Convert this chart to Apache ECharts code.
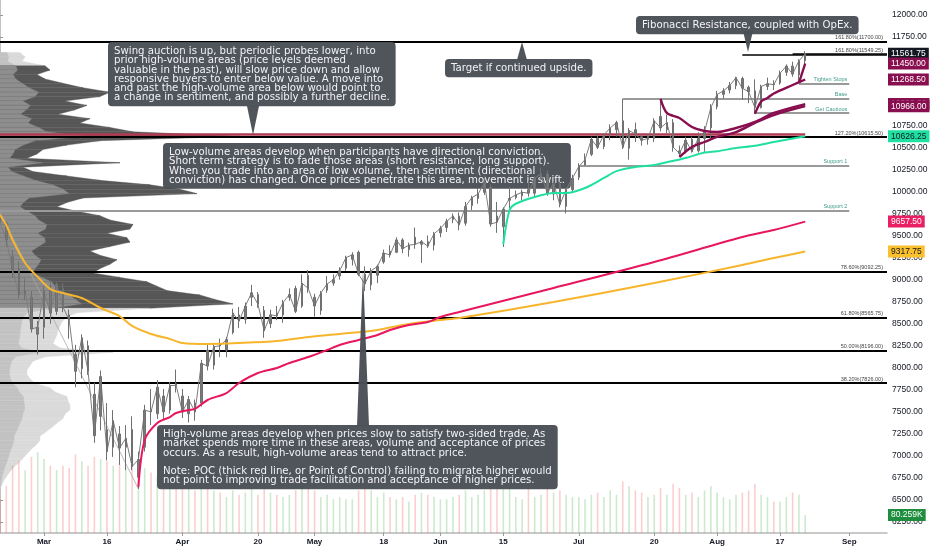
<!DOCTYPE html>
<html>
<head>
<meta charset="utf-8">
<script src="https://cdn.jsdelivr.net/npm/echarts@6/dist/echarts.min.js"></script>
<style>html,body{margin:0;padding:0;background:#fff}#main{width:932px;height:550px}</style>
</head>
<body>
<div id="main"></div>
<script>
/* NQ 2020 swing chart with volume profile and notes */
var tradingDays = [
  ['02', [20,21,24,25,26,27,28]],
  ['03', [2,3,4,5,6,9,10,11,12,13,16,17,18,19,20,23,24,25,26,27,30,31]],
  ['04', [1,2,3,6,7,8,9,13,14,15,16,17,20,21,22,23,24,27,28,29,30]],
  ['05', [1,4,5,6,7,8,11,12,13,14,15,18,19,20,21,22,26,27,28,29]],
  ['06', [1,2,3,4,5,8,9,10,11,12,15,16,17,18,19,22,23,24,25,26,29,30]],
  ['07', [1,2,6,7,8,9,10,13,14,15,16,17,20,21,22,23,24,27,28,29,30,31]],
  ['08', [3,4,5,6,7,10,11,12,13,14,17,18,19,20,21,24,25,26,27,28,31]],
  ['09', [1,2,3,4,8,9,10]]
];
var xLabels = {
  '2020-03-02':'Mar','2020-03-16':'16','2020-04-01':'Apr','2020-04-20':'20',
  '2020-05-01':'May','2020-05-18':'18','2020-06-01':'Jun','2020-06-15':'15',
  '2020-07-01':'Jul','2020-07-20':'20','2020-08-03':'Aug','2020-08-17':'17','2020-09-01':'Sep'
};
var yTicks = [6250,6500,6750,7000,7250,7500,7750,8000,8250,8500,8750,9000,9250,9500,9750,
  10000,10250,10500,10750,11000,11250,11500,11750,12000];

// daily bars: [open, close, low, high]
var priceBars = [
  [9720,9650,9560,9764],[9640,9450,9380,9660],[9260,9110,9020,9330],[9120,8830,8790,9210],
  [8840,8870,8770,9010],[8800,8440,8400,8870],[8380,8460,8150,8530],
  [8460,8870,8330,8920],[8880,8620,8500,8990],[8640,8950,8600,8970],[8900,8690,8630,8960],[8600,8540,8330,8660],
  [8150,7960,7780,8260],[7990,8340,7880,8380],[8250,7960,7920,8310],[7700,7230,7150,7830],[7450,7900,7290,7970],
  [7300,7050,6950,7600],[7100,7400,6990,7520],[7250,7090,6900,7340],[7100,7200,6840,7350],[7300,6880,6840,7450],
  [6760,6960,6628,7050],[7100,7520,7050,7580],[7520,7500,7350,7760],[7480,7780,7420,7860],[7680,7500,7420,7760],
  [7520,7800,7480,7840],[7820,7800,7720,7980],
  [7680,7500,7430,7760],[7480,7640,7380,7680],[7600,7500,7400,7640],
  [7600,8050,7560,8090],[8200,8020,7970,8280],[8030,8240,7980,8270],[8270,8250,8120,8330],
  [8200,8320,8120,8350],[8400,8620,8380,8670],[8600,8530,8450,8690],[8550,8700,8500,8740],[8800,8850,8700,8940],
  [8830,8720,8680,8860],[8650,8420,8340,8700],[8500,8600,8450,8660],[8620,8590,8540,8700],[8600,8740,8510,8770],
  [8800,8830,8760,8900],[8900,8640,8620,8930],[8700,8960,8680,9060],[9050,8900,8850,9110],
  [8800,8700,8580,8840],
  [8650,8850,8600,8870],[8880,8950,8850,9040],[8960,9000,8930,9060],[9040,9100,9000,9140],[9130,9250,9100,9270],
  [9230,9280,9160,9310],[9310,9060,9040,9330],[9060,8950,8870,9150],[8940,9100,8880,9130],[9050,9150,8960,9170],
  [9200,9300,9180,9340],[9320,9280,9250,9390],[9310,9450,9300,9480],[9450,9350,9300,9470],[9340,9390,9260,9420],
  [9480,9400,9350,9590],[9400,9430,9190,9450],[9430,9380,9360,9500],[9390,9520,9330,9540],
  [9530,9580,9480,9610],[9590,9660,9540,9690],[9680,9720,9640,9750],[9720,9620,9560,9760],[9640,9830,9610,9880],
  [9840,9930,9790,9950],[9920,9970,9860,10030],[9990,10100,9960,10180],[10050,9630,9600,10080],[9720,9650,9530,9880],
  [9600,9800,9370,9820],[9900,9920,9800,10050],[9930,9960,9910,10010],[9950,9990,9900,10020],[10020,9980,9940,10120],
  [9980,10150,9940,10170],[10160,10200,10140,10270],[10200,9980,9950,10240],[9970,10090,9900,10110],[10080,9850,9820,10110],
  [9830,10020,9750,10040],[10020,10150,9980,10190],
  [10160,10280,10130,10320],[10300,10360,10290,10430],
  [10420,10590,10400,10620],[10600,10500,10480,10660],[10510,10640,10480,10660],[10650,10720,10580,10760],[10700,10780,10620,10800],
  [10800,10500,10480,11050],[10490,10690,10360,10720],[10700,10650,10560,10780],[10620,10580,10520,10640],[10590,10600,10530,10650],
  [10600,10800,10560,10830],[10850,10720,10680,11050],[10700,10780,10660,10870],[10780,10500,10450,10820],[10460,10430,10390,10520],
  [10450,10580,10430,10620],[10590,10450,10440,10620],[10460,10600,10440,10670],[10600,10680,10450,10740],[10720,10950,10600,10990],
  [10960,11100,10930,11140],[11100,11140,11050,11170],[11150,11200,11110,11240],[11200,11290,11160,11300],[11280,11170,11040,11300],
  [11180,11130,11000,11200],[11140,10950,10880,11270],[10950,11190,10940,11210],[11190,11220,11150,11290],[11220,11210,11150,11260],
  [11230,11340,11210,11370],[11350,11420,11310,11440],[11420,11330,11300,11470],[11320,11480,11230,11500],[11480,11561.75,11440,11590]
];
// peak intraday volume per day, thousands
var volumes = [
  150,210,300,320,280,340,360,
  330,300,280,300,290, 350,320,300,340,330, 320,300,310,290,300, 300,290,270,250,240, 220,230,
  230,200,190, 220,200,190,180, 160,190,170,180,200, 170,210,180,170,160, 170,190,210,200,
  190, 160,170,150,160,150, 150,190,200,190,160, 180,160,150,160,140, 170,180,170,160,
  150,150,160,170,190, 160,170,190,240,230, 220,200,160,150,210, 160,170,200,180,190, 170,160,
  160,150, 170,180,160,190,170, 230,210,190,180,160, 170,200,170,220,200, 170,180,160,190,210,
  180,160,150,170,180, 190,220,170,160,140, 140,160,180,170,80.259
];

// [bar index, value]
var redMA = [[22,6650],[23,7181],[25,7374],[27,7442],[28,7488],[30,7522],[31,7533],[33,7635],[36,7714],[38,7828],
  [41,7941],[44,7998],[46,8054],[49,8122],[52,8202],[54,8259],[57,8315],[60,8372],[62,8429],[65,8485],[68,8519],
  [70,8576],[73,8633],[88,8905],[104,9200],[118,9483],[123,9562],[128,9657.5]];
var orangeMA = [[0,9732],[1,9619],[2,9449],[4,9188],[6,9029],[8,8893],[10,8848],[13,8791],[16,8678],[19,8587],
  [21,8474],[24,8383],[27,8327],[29,8281],[33,8270],[38,8281],[44,8304],[49,8349],[54,8383],[60,8429],[65,8497],
  [70,8542],[73,8565],[88,8746],[104,8961],[118,9166],[123,9245],[128,9317.75]];
var greenVWAP = [[80,9400],[81,9789],[82,9860],[85,9937],[88,9982],[90,9982],[93,10039],[96,10152],[98,10230],
  [101,10277],[104,10299],[106,10330],[109,10379],[112,10440],[114,10455],[117,10492],[120,10518],[123,10560],[128,10626.25]];
var vwapJul21 = [[105,11048],[106,10890],[108,10832],[110,10730],[112,10685],[114,10673],[117,10719],[120,10787],[123,10889],[128,10990]];
var vwapJul24 = [[108,10390],[110,10503],[112,10560],[114,10617],[117,10673],[120,10776],[123,10866],[128,10966]];
var vwapAug11 = [[120,10880],[121,11020],[122,11060],[123,11110],[126,11206],[128,11268.5]];
var vwapAug20 = [[127,11230],[128,11450]];

var fibLevels = [7826, 8196, 8565.75, 9092.25, 10615.5, 11700];
var fibRatios = ['38.20%', '50.00%', '61.80%', '78.60%', '127.20%', '161.80%'];
var fibShort = {ratio: '161.80%', value: 11549.25, from: 118};
var fibAnchor = [[0, 9764], [22, 6628]];
var lastPrice = 11561.75;
var pocLevel = 10645;

var stopLevels = [
  {name: 'Tighten Stops', value: 11218, from: 127},
  {name: 'Base', value: 11048, from: 99},
  {name: 'Get Cautious', value: 10889, from: 120},
  {name: 'Support 1', value: 10290, from: 92},
  {name: 'Support 2', value: 9778, from: 0}
];

// volume profile rows: [row low price, volume]
var profileStep = 50;
var profileRows = [
  [11550,200],[11500,250],[11450,220],[11400,450],[11350,500],[11300,370],[11250,450],[11200,630],[11150,830],
  [11100,1100],[11050,1000],[11000,650],[10950,870],[10900,750],[10850,580],[10800,900],[10750,800],[10700,1100],
  [10650,1330],[10600,2400],[10550,1000],[10500,670],[10450,430],[10400,370],[10350,270],[10300,1200],[10250,230],
  [10200,330],[10150,670],[10100,1000],[10050,1500],[10000,1800],[9950,1970],[9900,830],[9850,670],[9800,570],
  [9750,770],[9700,1000],[9650,1100],[9600,1330],[9550,1300],[9500,1070],[9450,1270],[9400,1300],[9350,1100],
  [9300,900],[9250,1000],[9200,1170],[9150,1100],[9100,1000],[9050,930],[9000,1200],[8950,1470],[8900,1570],
  [8850,1670],[8800,2000],[8750,2150],[8700,2330],[8650,1500],[8600,770],[8550,670],[8500,620],[8450,600],
  [8400,580],[8350,570],[8300,550],[8250,530],[8200,600],[8150,1130],[8100,450],[8050,330],[8000,300],[7950,270],
  [7900,270],[7850,300],[7800,350],[7750,500],[7700,550],[7650,670],[7600,680],[7550,700],[7500,700],[7450,650],
  [7400,630],[7350,570],[7300,520],[7250,460],[7200,400],[7150,400],[7100,360],[7050,310],[7000,270],[6950,230],
  [6900,190],[6850,140],[6800,100],[6750,70],[6700,40],[6650,20]
];

var notes = {
  swing: 'Swing auction is up, but periodic probes lower, into\nprior high-volume areas (price levels deemed\nvaluable in the past), will slow price down and allow\nresponsive buyers to enter below value. A move into\nand past the high-volume area below would point to\na change in sentiment, and possibly a further decline.',
  lowVol: 'Low-volume areas develop when participants have directional conviction.\nShort term strategy is to fade those areas (short resistance, long support).\nWhen you trade into an area of low volume, then sentiment (directional\nconviction) has changed. Once prices penetrate this area, movement is swift.',
  target: 'Target if continued upside.',
  fib: 'Fibonacci Resistance, coupled with OpEx.',
  highVol: 'High-volume areas develop when prices slow to satisfy two-sided trade. As\nmarket spends more time in these areas, volume and acceptance of prices\noccurs. As a result, high-volume areas tend to attract price.\n\nNote: POC (thick red line, or Point of Control) failing to migrate higher would\nnot point to improving trade facilitation and acceptance of higher prices.'
};

var dates = [];
tradingDays.forEach(function (m) {
  m[1].forEach(function (d) { dates.push('2020-' + m[0] + '-' + (d < 10 ? '0' + d : d)); });
});
var lastIdx = priceBars.length - 1;
var endIdx = dates.length - 1;
var closes = priceBars.map(function (b, i) { return [i, b[1]]; });

var dom = document.getElementById('main');
var myChart = echarts.init(dom);

var noteBg = 'rgba(74,78,86,0.97)';
var noteFont = '10.2px "DejaVu Sans"';
function note(x, y, text, z) {
  return {type: 'text', x: x, y: y, z: z || 100, silent: true,
    style: {text: text, fill: '#f2f3f5', font: noteFont, lineHeight: 9.2,
      backgroundColor: noteBg, padding: [5, 6, 4, 6], borderRadius: 4}};
}
function pointer(pts) {
  return {type: 'polygon', z: 100, silent: true, shape: {points: pts}, style: {fill: noteBg}};
}

var levelLines = [];
fibLevels.forEach(function (v, i) {
  levelLines.push({yAxis: v, lineStyle: {color: '#000', width: 2, type: 'solid'},
    label: {show: true, position: 'insideEndTop', distance: [4, 1], formatter: fibRatios[i] + '(' + v.toFixed(2) + ')',
      fontSize: 5.5, color: '#444', fontFamily: 'Liberation Sans'}});
});
levelLines.push([
  {coord: [fibShort.from, fibShort.value], lineStyle: {color: '#000', width: 1.5, type: 'solid'},
   label: {show: true, position: 'insideEndTop', distance: [4, 1], formatter: fibShort.ratio + '(' + fibShort.value.toFixed(2) + ')',
     fontSize: 5.5, color: '#444', fontFamily: 'Liberation Sans'}},
  {coord: [endIdx, fibShort.value]}
]);
levelLines.push([
  {coord: [lastIdx - 2, lastPrice], lineStyle: {color: '#000', width: 1.5, type: 'solid'}, label: {show: false}},
  {coord: [endIdx, lastPrice]}
]);
stopLevels.forEach(function (s) {
  levelLines.push([
    {coord: [s.from, s.value], lineStyle: {color: '#9a9a9a', width: 1.8, type: 'solid'},
     label: {show: true, position: 'insideEndTop', distance: [2, 1], formatter: s.name, fontSize: 5.5,
       color: '#3f9b88', fontFamily: 'Liberation Sans'}},
    {coord: [135, s.value]}
  ]);
});

function lastOf(a) { return a[a.length - 1][1]; }
var priceTags = [
  {v: lastPrice, bg: '#131722', fg: '#fff'},
  {v: lastOf(vwapAug20), bg: '#880e4f', fg: '#fff'},
  {v: lastOf(vwapAug11), bg: '#880e4f', fg: '#fff'},
  {v: lastOf(vwapJul21), bg: '#880e4f', fg: '#fff'},
  {v: lastOf(vwapJul24), bg: '#880e4f', fg: '#fff'},
  {v: lastOf(greenVWAP), bg: '#1fe0a0', fg: '#131722'},
  {v: lastOf(redMA), bg: '#e91e63', fg: '#fff'},
  {v: lastOf(orangeMA), bg: '#fbc02d', fg: '#131722'}
];
function tag(v, text, bg, fg) {
  return {yAxis: v, lineStyle: {color: 'rgba(0,0,0,0)', width: 0.01},
    label: {show: true, position: 'end', distance: 1, formatter: text, backgroundColor: bg, color: fg,
      padding: [2, 3, 1, 3], fontSize: 8.5, fontFamily: 'Liberation Sans'}};
}

function maLine(data, color, width) {
  return {type: 'line', data: data, xAxisIndex: 0, yAxisIndex: 0, showSymbol: false, smooth: 0.3,
    silent: true, z: 6, lineStyle: {color: color, width: width}};
}

var option = {
  animation: false,
  backgroundColor: '#ffffff',
  grid: {left: 0, right: 45, top: 0, bottom: 17, containLabel: false},
  xAxis: [
    {type: 'category', data: dates, boundaryGap: false,
      axisLine: {lineStyle: {color: '#b8b8b8', width: 1.5}},
      axisTick: {show: true, length: 3, lineStyle: {color: '#999'},
        interval: function (i, v) { return xLabels[v] !== undefined; }},
      axisLabel: {interval: function (i, v) { return xLabels[v] !== undefined; },
        formatter: function (v) { return xLabels[v] || ''; },
        fontSize: 8, color: '#131722', fontFamily: 'Liberation Sans', margin: 5, fontWeight: 'bold'},
      splitLine: {show: false}},
    {type: 'value', min: 0, max: 8870, show: false}
  ],
  yAxis: [
    {type: 'value', position: 'right', min: 6127, max: 12170, scale: true,
      axisLine: {show: true, lineStyle: {color: '#c3c3c3', width: 2}},
      axisTick: {show: true, length: 3, customValues: yTicks, lineStyle: {color: '#999'}},
      axisLabel: {customValues: yTicks, formatter: function (v) { return v.toFixed(2); },
        fontSize: 8.5, color: '#131722', fontFamily: 'Liberation Sans', margin: 5},
      splitLine: {show: false}},
    {type: 'value', min: 0, max: 2376, show: false}
  ],
  series: [
    {type: 'custom', name: 'profile', xAxisIndex: 1, yAxisIndex: 0, z: 1, silent: true,
      data: profileRows, encode: {x: 1, y: 0},
      renderItem: function (params, api) {
        var i = params.dataIndex;
        var p = api.value(0), v = api.value(1);
        var next = profileRows[i + 1] || [p - profileStep, 0];
        var mid = p + profileStep / 2, midN = next[0] + profileStep / 2;
        var a0 = api.coord([0, mid]), a1 = api.coord([v, mid]);
        var b0 = api.coord([0, midN]), b1 = api.coord([next[1], midN]);
        var ai = api.coord([v * 0.35, mid]), bi = api.coord([next[1] * 0.35, midN]);
        var dark = p >= 8700 && p < 11450;
        return {type: 'group', children: [
          {type: 'polygon', shape: {points: [a0, a1, b1, b0]},
            style: {fill: dark ? '#575757' : '#dadada', stroke: dark ? '#575757' : '#dadada', lineWidth: 0.4}},
          {type: 'polygon', shape: {points: [a0, ai, bi, b0]},
            style: {fill: dark ? '#8e8e8e' : '#c2c2c2', stroke: dark ? '#8e8e8e' : '#c2c2c2', lineWidth: 0.4}}
        ]};
      }},
    {type: 'bar', name: 'volume', xAxisIndex: 0, yAxisIndex: 1, barWidth: 1.6, z: 2, silent: true,
      data: volumes.map(function (v, i) {
        var up = priceBars[i][1] >= priceBars[i][0];
        return {value: v, itemStyle: {color: up ? 'rgba(76,175,80,0.28)' : 'rgba(239,83,80,0.28)'}};
      }),
      markLine: {symbol: ['none', 'none'], silent: true, animation: false,
        data: [tag(volumes[lastIdx], volumes[lastIdx].toFixed(3) + 'K', '#1e8e3e', '#fff')]}},
    {type: 'line', name: 'poc', data: [[0, pocLevel], [lastIdx, pocLevel]], xAxisIndex: 0, yAxisIndex: 0,
      showSymbol: false, silent: true, z: 3, lineStyle: {color: '#b23a50', width: 2.5}},
    {type: 'line', name: 'levels', data: [], xAxisIndex: 0, yAxisIndex: 0, silent: true, z: 4,
      markLine: {symbol: ['none', 'none'], silent: true, animation: false, data: levelLines}},
    {type: 'line', name: 'fibAnchor', data: fibAnchor, xAxisIndex: 0, yAxisIndex: 0, showSymbol: false, silent: true,
      z: 4, lineStyle: {color: '#a8a8a8', width: 0.8}},
    maLine(orangeMA, '#f7b52c', 2),
    maLine(redMA, '#e8175d', 2),
    maLine(greenVWAP, '#1fe0a0', 2),
    maLine(vwapJul21, '#880e4f', 2.4),
    maLine(vwapJul24, '#880e4f', 2.4),
    maLine(vwapAug11, '#880e4f', 2.4),
    maLine(vwapAug20, '#880e4f', 2.4),
    {type: 'line', name: 'closes', data: closes, xAxisIndex: 0, yAxisIndex: 0, showSymbol: false, silent: true,
      z: 5, lineStyle: {color: '#7d7d7d', width: 1}},
    {type: 'candlestick', name: 'NQ', data: priceBars, xAxisIndex: 0, yAxisIndex: 0, barMaxWidth: 2, z: 5, silent: true,
      itemStyle: {color: '#7a7a7a', color0: '#7a7a7a', borderColor: '#707070', borderColor0: '#707070', borderWidth: 1}},
    {type: 'line', name: 'tags', data: [], xAxisIndex: 0, yAxisIndex: 0, silent: true, z: 20,
      markLine: {symbol: ['none', 'none'], silent: true, animation: false,
        data: priceTags.map(function (t) { return tag(t.v, t.v.toFixed(2), t.bg, t.fg); })}}
  ],
  graphic: [
    note(163, 143, notes.lowVol, 1.5),
    pointer([[247, 106], [259, 106], [253, 135]]),
    note(108, 42, notes.swing),
    pointer([[517, 60], [527, 60], [522, 42]]),
    note(445, 59, notes.target),
    pointer([[743, 31], [753, 31], [748, 52]]),
    note(636, 16, notes.fib),
    pointer([[357, 426], [369, 426], [363, 270]]),
    note(157, 425, notes.highVol)
  ]
};

if (option && typeof option === 'object') {
  myChart.setOption(option, true);
}
</script>
</body>
</html>
